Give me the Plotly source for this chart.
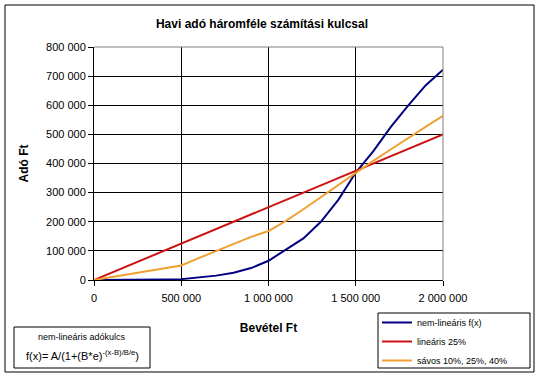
import plotly.graph_objects as go

# Data, x in Ft
income = [0, 100000, 200000, 300000, 400000, 500000, 600000, 700000, 800000, 900000,
          1000000, 1100000, 1200000, 1300000, 1400000, 1500000, 1600000, 1700000,
          1800000, 1900000, 2000000]
nonlinear = [0, 0, 500, 1000, 2000, 3000, 8000, 15000, 25000, 41000,
             66000, 103000, 143000, 200000, 275000, 369000, 442000, 525000,
             599000, 668000, 722000]
linear25 = [0, 25000, 50000, 75000, 100000, 125000, 150000, 175000, 200000, 225000,
            250000, 275000, 300000, 325000, 350000, 375000, 400000, 425000,
            450000, 475000, 500000]
banded = [0, 10000, 20000, 30000, 40000, 50000, 75000, 100000, 125000, 148000,
          168000, 203000, 243000, 285000, 327000, 369000, 409000, 448000,
          488000, 526000, 564000]

series_names = ["nem-lineáris f(x)", "lineáris 25%", "sávos 10%, 25%, 40%"]
x_tickvals = [0, 500000, 1000000, 1500000, 2000000]
x_ticktext = ["0", "500 000", "1 000 000", "1 500 000", "2 000 000"]
y_tickvals = [0, 100000, 200000, 300000, 400000, 500000, 600000, 700000, 800000]
y_ticktext = ["0", "100 000", "200 000", "300 000", "400 000", "500 000",
              "600 000", "700 000", "800 000"]

FONT = "Liberation Sans, Arial, sans-serif"

fig = go.Figure()
fig.add_trace(go.Scatter(x=income, y=nonlinear, mode="lines", name=series_names[0],
                         line=dict(color="#000080", width=2)))
fig.add_trace(go.Scatter(x=income, y=linear25, mode="lines", name=series_names[1],
                         line=dict(color="#CC1010", width=2)))
fig.add_trace(go.Scatter(x=income, y=banded, mode="lines", name=series_names[2],
                         line=dict(color="#F0A030", width=2)))

W, H = 541, 379
L, R, T, B = 94, 98, 47, 99
pw, ph = W - L - R, H - T - B

def px_to_paper_x(px):
    return (px - L) / pw

def px_to_paper_y(py):
    return (H - B - py) / ph

fig.update_layout(
    width=W, height=H,
    margin=dict(l=L, r=R, t=T, b=B, autoexpand=False),
    paper_bgcolor="white", plot_bgcolor="white",
    font=dict(family=FONT, size=11, color="black"),
    title=dict(text="<b>Havi adó háromféle számítási kulcsal</b>",
               x=px_to_paper_x(262), xref="paper", xanchor="center",
               y=1 - 24 / H, yanchor="middle",
               font=dict(size=12, family=FONT)),
    showlegend=True,
    legend=dict(x=px_to_paper_x(377), y=px_to_paper_y(308), xanchor="left", yanchor="top",
                borderwidth=0, bgcolor="rgba(0,0,0,0)",
                font=dict(size=9, family=FONT), tracegroupgap=0,
                itemwidth=30),
    xaxis=dict(range=[0, 2000000], tickvals=x_tickvals, ticktext=x_ticktext,
               showgrid=True, gridcolor="black", gridwidth=1,
               showline=True, linecolor="black", linewidth=1,
               ticks="outside", ticklen=5, tickcolor="black",
               zeroline=False, mirror=False, ticklabelstandoff=3,
               title=dict(text="<b>Bevétel Ft</b>", font=dict(size=12, family=FONT), standoff=20)),
    yaxis=dict(range=[0, 800000], tickvals=y_tickvals, ticktext=y_ticktext,
               showgrid=True, gridcolor="black", gridwidth=1,
               showline=True, linecolor="black", linewidth=1,
               ticks="outside", ticklen=5, tickcolor="black",
               zeroline=False,
               title=dict(text="<b>Adó Ft</b>", font=dict(size=12, family=FONT), standoff=14)),
)

# gray plot-area border (top and right)
fig.add_shape(type="line", xref="paper", yref="paper", x0=0, x1=1, y0=1, y1=1,
              line=dict(color="#808080", width=1))
fig.add_shape(type="line", xref="paper", yref="paper", x0=1, x1=1, y0=0, y1=1,
              line=dict(color="#808080", width=1))

# outer chart border
fig.add_shape(type="rect", xref="paper", yref="paper",
              x0=px_to_paper_x(5), x1=px_to_paper_x(534),
              y0=px_to_paper_y(372), y1=px_to_paper_y(5),
              line=dict(color="black", width=1), fillcolor="rgba(0,0,0,0)")

# legend frame
fig.add_shape(type="rect", xref="paper", yref="paper",
              x0=px_to_paper_x(378), x1=px_to_paper_x(530),
              y0=px_to_paper_y(368), y1=px_to_paper_y(313),
              line=dict(color="black", width=1), fillcolor="white", layer="below")

# formula box
fig.add_shape(type="rect", xref="paper", yref="paper",
              x0=px_to_paper_x(14), x1=px_to_paper_x(150),
              y0=px_to_paper_y(368), y1=px_to_paper_y(327),
              line=dict(color="black", width=1), fillcolor="white")
fig.add_annotation(xref="paper", yref="paper", x=px_to_paper_x(82), y=px_to_paper_y(337),
                   text="nem-lineáris adókulcs", showarrow=False,
                   font=dict(size=9, family=FONT), xanchor="center", yanchor="middle")
fig.add_annotation(xref="paper", yref="paper", x=px_to_paper_x(82), y=px_to_paper_y(355),
                   text="f(x)= A/(1+(B*e)<sup>-(x-B)/B/e</sup>)", showarrow=False,
                   font=dict(size=11, family=FONT), xanchor="center", yanchor="middle")

fig.write_html("out.html", config={"displayModeBar": False},
               post_script="document.body.style.margin='0';")
